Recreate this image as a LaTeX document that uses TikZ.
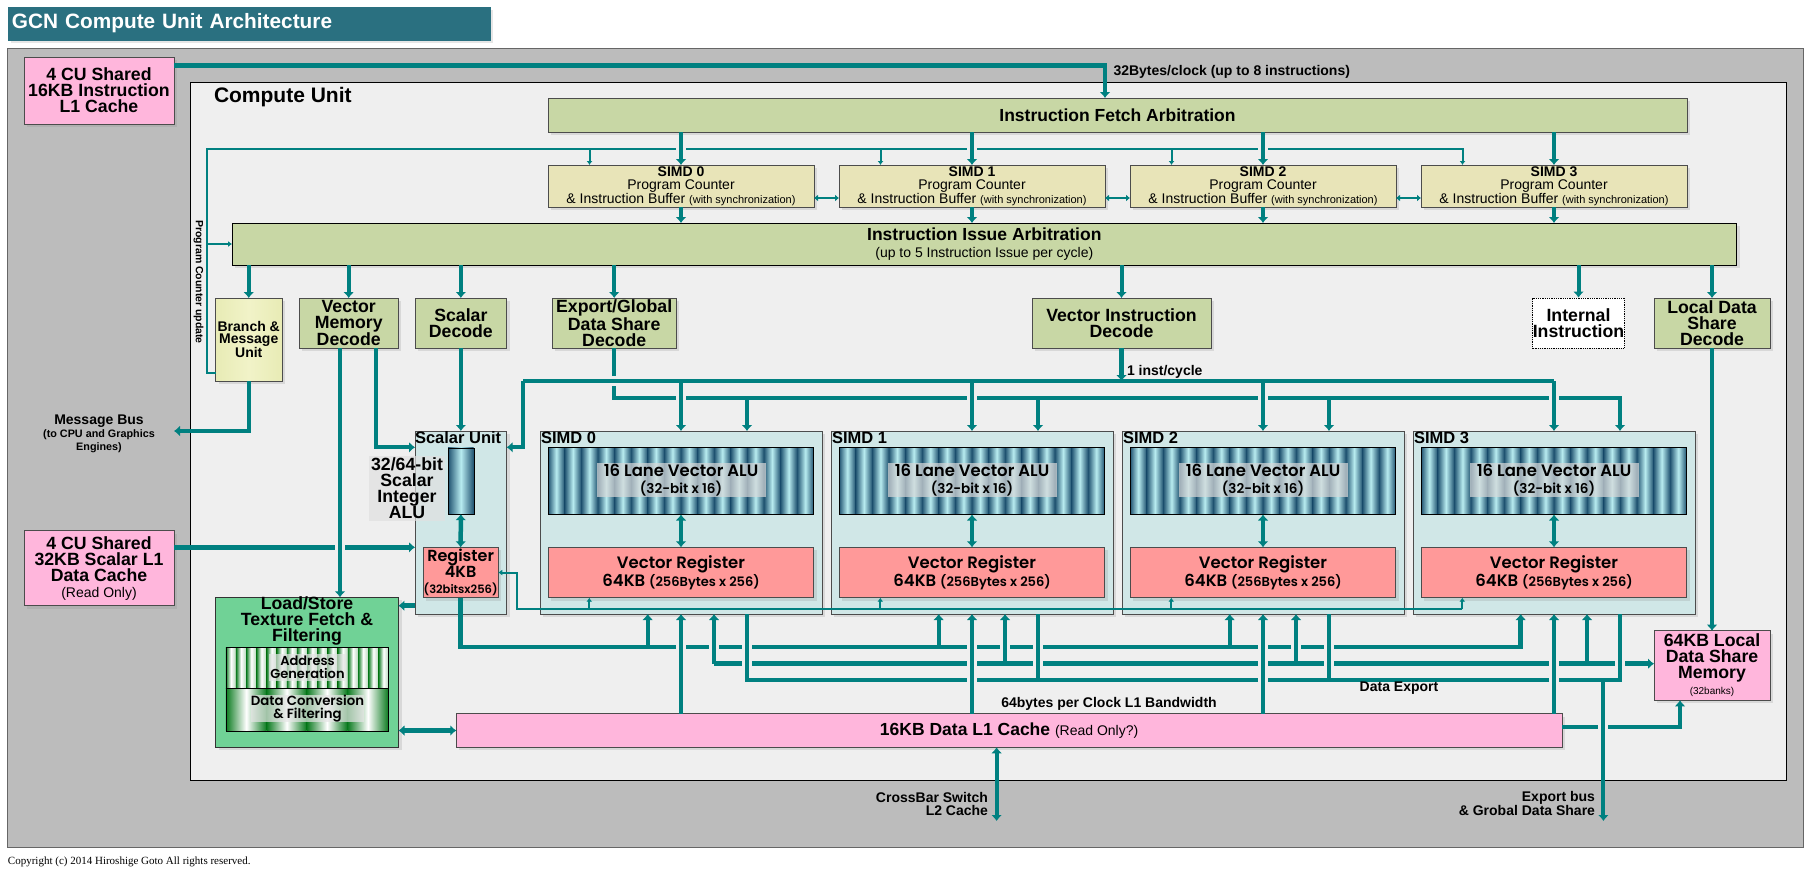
\documentclass[tikz,border=0pt]{standalone}
\usepackage{fontspec}
\setmainfont{Liberation Sans}
\newfontfamily\gothic[BoldFont = * SemiBold]{Poppins}
\newfontfamily\copyfont{Liberation Serif}
\usepackage{tikz}
\usetikzlibrary{arrows.meta, shadows}

\definecolor{tealline}{HTML}{008080}
\definecolor{titleblue}{HTML}{2A7080}
\definecolor{chipgray}{HTML}{BCBCBC}
\definecolor{cubg}{HTML}{EFEFEF}
\definecolor{arbgreen}{HTML}{C8D7A5}
\definecolor{pcyellow}{HTML}{E8E4B8}
\definecolor{branchedge}{HTML}{E8EBB5}
\definecolor{branchmid}{HTML}{F1F3C8}
\definecolor{simdbg}{HTML}{D0E7E7}
\definecolor{cachepink}{HTML}{FFB6DC}
\definecolor{regred}{HTML}{FF9999}
\definecolor{lsgreen}{HTML}{70D296}
\definecolor{lanedark}{HTML}{1F5270}
\definecolor{lanelight}{HTML}{B8ECF0}
\definecolor{stripegreen}{HTML}{0A7A1E}

\newcommand{\fsz}[2]{\fontsize{#1}{#2}\selectfont}

\tikzset{
    x = 1pt, y = -1pt,
    softshadow/.style = {drop shadow = {opacity = .2, shadow xshift = 3pt, shadow yshift = -3pt}},
    block/.style = {draw = black!70, line width = 1pt, inner sep = 0pt, outer sep = 0pt, align = center, font = \fsz{17.7}{16}\bfseries, softshadow},
    decode/.style = {block, fill = arbgreen},
    cache/.style = {block, fill = cachepink},
    plain/.style = {inner sep = 0pt, outer sep = 0pt, align = center, font = \fsz{14}{13}\bfseries},
    glass/.style = {inner sep = 0pt, outer sep = 0pt, align = center, fill = black!15, fill opacity = .7, text opacity = 1},
    bus/.style = {draw = tealline, line width = 4.5pt},
    link/.style = {draw = tealline, line width = 4pt},
    thinbus/.style = {draw = tealline, line width = 2pt},
    cover/.style = {draw = cubg, line width = 10pt},
    arr/.style = {-{Latex[length = 6pt, width = 11pt]}},
    darr/.style = {{Latex[length = 6pt, width = 11pt]}-{Latex[length = 6pt, width = 11pt]}},
    thinarr/.style = {-{Latex[length = 4pt, width = 6pt]}},
    lane/.style = {left color = lanedark, right color = lanedark, middle color = lanelight}
}

\begin{document}
\begin{tikzpicture}
    \useasboundingbox (0, 0) rectangle (1816, 878);

    % frames
    \node [block, fill = titleblue, draw = titleblue, minimum width = 482, minimum height = 33, text width = 474, align = left, text = white, font = \fsz{20.8}{21}\bfseries] (title) at (249, 23.5) {GCN Compute Unit Architecture};
    \node [draw = black!60, line width = 1pt, fill = chipgray, minimum width = 1795.5, minimum height = 798.5] (chip) at (905.25, 447.75) {};
    \node [draw = black, line width = 1pt, fill = cubg, minimum width = 1595.5, minimum height = 698] (cu) at (988.25, 431) {};
    \node [plain, anchor = west, font = \fsz{21}{21}\bfseries] (culabel) at (214, 97) {Compute Unit};
    \node [plain, anchor = west, font = \fsz{11}{11}\copyfont] (copyright) at (8, 862.3) {Copyright (c) 2014 Hiroshige Goto All rights reserved.};

    % caches and arbitration
    \node [cache, minimum width = 150, minimum height = 67] (icache) at (99, 90.5) {4 CU Shared\\16KB Instruction\\L1 Cache};
    \node [cache, minimum width = 150, minimum height = 74.7] (dcache) at (99, 568.3) {4 CU Shared\\32KB Scalar L1\\Data Cache\\{\fsz{14}{16}\mdseries (Read Only)}};
    \node [decode, minimum width = 1139, minimum height = 34, font = \fsz{17.5}{17}\bfseries] (fetch) at (1117.5, 115) {Instruction Fetch Arbitration};
    \node [decode, draw = black, minimum width = 1504.6, minimum height = 42, font = \fsz{17.5}{17}\bfseries] (issue) at (984.3, 244) {Instruction Issue Arbitration\\{\fsz{14}{15}\mdseries (up to 5 Instruction Issue per cycle)}};

    % decoders
    \node [block, left color = branchedge, right color = branchedge, middle color = branchmid, minimum width = 66.5, minimum height = 83, font = \fsz{14}{12.7}\bfseries] (branch) at (248.75, 339.5) {Branch \&\\Message\\Unit};
    \node [decode, minimum width = 99.4, minimum height = 50] (vmem) at (348.7, 323) {Vector\\Memory\\Decode};
    \node [decode, minimum width = 91.7, minimum height = 50] (sdec) at (460.85, 323) {Scalar\\Decode};
    \node [decode, minimum width = 123.6, minimum height = 50] (expdec) at (614.2, 323) {Export/Global\\Data Share\\Decode};
    \node [decode, minimum width = 179, minimum height = 50] (vdec) at (1121.5, 323) {Vector Instruction\\Decode};
    \node [draw = black, densely dotted, fill = white, line width = .8pt, inner sep = 0pt, align = center, font = \fsz{17.7}{16}\bfseries, minimum width = 91, minimum height = 50] (inter) at (1578.5, 323) {Internal\\Instruction};
    \node [decode, minimum width = 116, minimum height = 50] (ldsdec) at (1712, 323) {Local Data\\Share\\Decode};

    % load/store unit
    \node [block, fill = lsgreen, draw = black!80, minimum width = 183, minimum height = 150] (lstore) at (307, 672.3) {};
    \node [plain, font = \fsz{17.7}{16}\bfseries] (lslabel) at (307, 620.7) {Load/Store\\Texture Fetch \&\\Filtering};
    \foreach \j in {0, ..., 15}
        \shade [left color = stripegreen, right color = stripegreen!30, middle color = white] (225.8 + \j*10.17, 647.3) rectangle +(10.17, 40.7);
    \foreach \x/\w in {225.8/40.9, 266.7/40, 306.7/40.6, 347.3/41.2}
        \shade [left color = stripegreen, right color = stripegreen, middle color = white] (\x, 688) rectangle +(\w, 42.7);
    \node [draw = black, minimum width = 162.7, minimum height = 40.7, inner sep = 0pt] (addr) at (307.15, 667.65) {};
    \node [draw = black, minimum width = 162.7, minimum height = 42.7, inner sep = 0pt] (conv) at (307.15, 709.35) {};
    \node [glass, minimum width = 77, minimum height = 27, font = \fsz{13}{13}\gothic\bfseries, fill = black!10] (addrlabel) at (307.5, 667) {Address\\Generation};
    \node [glass, minimum width = 113, minimum height = 25, font = \fsz{13.3}{12.4}\gothic\bfseries, fill = black!10] (convlabel) at (307.5, 708.5) {Data Conversion\\\& Filtering};

    % scalar unit
    \node [block, fill = simdbg, draw = black!70, minimum width = 91.7, minimum height = 183] (scalar) at (460.85, 522.5) {};
    \node [plain, anchor = west, font = \fsz{16.5}{16}\bfseries] (sulabel) at (415, 438) {Scalar Unit};
    \shade [lane] (448, 447.7) rectangle (473.7, 514);
    \node [draw = black, minimum width = 25.7, minimum height = 66.3, inner sep = 0pt] (salu) at (460.85, 480.85) {};
    \node [glass, fill = black!12, minimum width = 75.7, minimum height = 64.7, font = \fsz{17.7}{16}\bfseries] (salulabel) at (407, 488.3) {32/64-bit\\Scalar\\Integer\\ALU};
    \node [block, fill = regred, draw = black!70, minimum width = 75.3, minimum height = 50.4, font = \fsz{16}{16}\gothic\bfseries] (reg) at (460.65, 572.5) {Register\\4KB\\{\fsz{11.5}{16}\gothic\bfseries (32bitsx256)}};

    % simd columns
    \foreach \i in {0, 1, 2, 3} {
        \begin{scope}[xshift = \i*291pt]
            \node [block, fill = pcyellow, minimum width = 266, minimum height = 42, font = \fsz{14}{13}] (pc\i) at (681, 186) {\textbf{SIMD \i}\\Program Counter\\\& Instruction Buffer {\fsz{11}{13}(with synchronization)}};
            \node [block, fill = simdbg, minimum width = 282, minimum height = 183] (simd\i) at (681, 522.5) {};
            \node [plain, anchor = west, font = \fsz{16.5}{16}\bfseries] (simdlabel\i) at (541, 438) {SIMD \i};
            \foreach \j in {0, ..., 15}
                \shade [lane] (548 + \j*16.6, 447.7) rectangle +(16.6, 66.3);
            \node [draw = black, line width = 1pt, minimum width = 265.6, minimum height = 66.3, inner sep = 0pt] (valu\i) at (681, 480.85) {};
            \node [glass, minimum width = 169, minimum height = 33.7, font = \fsz{16.5}{17}\gothic\bfseries] (alulabel\i) at (681, 479.8) {16 Lane Vector ALU\\{\fsz{13.5}{17}(32-bit x 16)}};
            \node [block, fill = regred, minimum width = 265.6, minimum height = 50.4, font = \fsz{16.5}{16}\gothic\bfseries] (vreg\i) at (681, 572.5) {Vector Register\\64KB {\fsz{13}{16}(256Bytes x 256)}};
            \coordinate (ain\i) at (647.7, 614);
            \coordinate (bin\i) at (714, 614);
            \coordinate (cout\i) at (747, 614);
            \coordinate (exin\i) at (747, 431);
            \coordinate (vin\i) at (589.3, 597.7);
            \coordinate (pcin\i) at (589.5, 165);
        \end{scope}
    }

    \node [cache, minimum width = 1105.7, minimum height = 33.6, font = \fsz{17.5}{17}\bfseries] (l1) at (1009.15, 730.5) {16KB Data L1 Cache {\fsz{14}{17}\mdseries (Read Only?)}};
    \node [cache, minimum width = 116, minimum height = 69.6] (ldsmem) at (1712, 665.5) {64KB Local\\Data Share\\Memory\\{\fsz{10}{13}\mdseries (32banks)}};

    % free ends and bus levels
    \coordinate (iturn) at (1105, 65.5);
    \coordinate (pctop) at (207, 149);
    \coordinate (pcout) at (215.5, 373);
    \coordinate (msgbus) at (174, 431);
    \coordinate (vmem1) at (340, 348);
    \coordinate (vmem2) at (376.4, 348);
    \coordinate (suin) at (415, 447.3);
    \coordinate (dcin) at (415, 547.3);
    \coordinate (lsout) at (398.4, 605.7);
    \coordinate (instleft) at (523, 381);
    \coordinate (scalarin) at (506.7, 447.3);
    \coordinate (exbus) at (0, 398);
    \coordinate (thinturn) at (516.7, 609);
    \coordinate (busa) at (0, 647);
    \coordinate (busb) at (0, 663.7);
    \coordinate (busc) at (0, 680);
    \coordinate (exportend) at (1603.4, 821);
    \coordinate (xbar) at (996.6, 821);
    \coordinate (l1out) at (1562, 727);
    \coordinate (memin) at (1680, 700.3);

    % instruction side
    \draw [bus, arr] (icache.east |- iturn) -| (fetch.north -| iturn);
    \draw [thinbus, thinarr] (pcout) -| (pctop) -| (pcin3);
    \draw [thinbus, thinarr] (pctop |- issue.west) -- (issue.west);
    \foreach \i in {0, 1, 2}
        \draw [thinbus, thinarr] (pctop -| pcin\i) -- (pcin\i);
    \foreach \x in {681, 972, 1263}
        \draw [cover] (\x, 144) -- (\x, 154);
    \foreach \i in {0, 1, 2, 3} {
        \draw [bus, arr] (fetch.south -| pc\i) -- (pc\i.north);
        \draw [bus, arr] (pc\i.south) -- (issue.north -| pc\i);
    }
    \foreach \a/\b in {0/1, 1/2, 2/3}
        \draw [thinbus, {Latex[length = 4pt, width = 7pt]}-{Latex[length = 4pt, width = 7pt]}] ([yshift = -12pt]pc\a.east) -- ([yshift = -12pt]pc\b.west);

    % issue to decoders
    \foreach \n in {branch, vmem, sdec, expdec, vdec, inter, ldsdec}
        \draw [link, arr] (issue.south -| \n.north) -- (\n.north);
    \draw [bus, arr] (branch.south) |- (msgbus);
    \draw [link, arr] (sdec.south) -- (scalar.north -| sdec.south);
    \draw [link, arr] (ldsdec.south) -- (ldsmem.north);
    \draw [link, arr] (vmem2) |- (suin);

    \draw [bus, arr] (dcache.east |- dcin) -- (dcin);
    \draw [cover] (335, 547.3) -- (345, 547.3);
    \draw [link, arr] (vmem1) -- (vmem1 |- lstore.north);
    \draw [bus, arr] (scalar.west |- lsout) -- (lsout);
    \draw [bus, darr] (lstore.east |- l1.west) -- (l1.west);

    % vector decode busses
    \draw [bus, arr] (expdec.south) |- (exbus -| exin3) -- (exin3);
    \draw [cover] (608, 381) -- (620, 381);
    \draw [bus, arr] (vdec.south) -- (vdec.south |- instleft);
    \draw [bus] (instleft) -- (instleft -| simd3.north);
    \draw [link, arr] (instleft) |- (scalarin);
    \foreach \x in {681, 972, 1263, 1554}
        \draw [cover] (\x, 394) -- (\x, 402);
    \foreach \i in {0, 1, 2, 3}
        \draw [link, arr] (instleft -| simd\i.north) -- (simd\i.north);
    \foreach \i in {0, 1, 2}
        \draw [link, arr] (exbus -| exin\i) -- (exin\i);

    % local register links
    \draw [bus, darr] (salu.south) -- (reg.north);
    \foreach \i in {0, 1, 2, 3}
        \draw [bus, darr] (valu\i.south) -- (vreg\i.north);
    \draw [thinbus, thinarr] (thinturn -| vin3) -- (thinturn) |- (reg.east);
    \foreach \i in {0, 1, 2, 3}
        \draw [thinbus, thinarr] (vin\i |- thinturn) -- (vin\i);

    % data busses under the simds
    \draw [bus, arr] (reg.south) |- (busa -| ain3) -- (ain3);
    \draw [bus, arr] (bin0 |- busb) -- (ldsmem.west |- busb);
    \draw [bus] (cout0) -- (cout0 |- busc) -- (cout3 |- busc) -- (cout3);
    \draw [bus, arr] (l1out) -| (memin);
    \foreach \x in {681, 714, 747, 972, 1005, 1038, 1263, 1296, 1329}
        \draw [cover] (\x, 643) -- (\x, 651);
    \foreach \x in {747, 972, 1038, 1263, 1329, 1554, 1620}
        \draw [cover] (\x, 660) -- (\x, 668);
    \foreach \x in {972, 1263, 1554}
        \draw [cover] (\x, 676) -- (\x, 684);
    \draw [cover] (1603.4, 723) -- (1603.4, 731);
    \foreach \i in {0, 1, 2}
        \draw [link, arr] (ain\i |- busa) -- (ain\i);
    \foreach \i in {0, 1, 2, 3} {
        \draw [link] (cout\i) -- (cout\i |- busc);
        \draw [link, arr] (bin\i |- busb) -- (bin\i);
        \draw [link, arr] (l1.north -| simd\i.south) -- (simd\i.south);
    }
    \draw [link, arr] (exportend |- busc) -- (exportend);
    \draw [link, darr] (xbar |- l1.south) -- (xbar);

    % labels
    \node [plain, anchor = west] (fetchrate) at (1113.5, 72) {32Bytes/clock (up to 8 instructions)};
    \node [plain, rotate = -90, font = \fsz{10.5}{11}\bfseries] (pcupdate) at (198.6, 282) {Program Counter update};
    \node [plain, anchor = west] (instrate) at (1127, 371.7) {1 inst/cycle};
    \node [plain] (msglabel) at (99, 434) {Message Bus\\{\fsz{10.8}{11.7}(to CPU and Graphics}\\{\fsz{10.8}{11.7}Engines)}};
    \node [plain] (l1rate) at (1109, 703.7) {64bytes per Clock L1 Bandwidth};
    \node [plain] (dataexport) at (1399, 688) {Data Export};
    \node [plain, anchor = east, align = right] (xbarlabel) at (988, 803.5) {CrossBar Switch\\L2 Cache};
    \node [plain, anchor = east, align = right] (exportlabel) at (1595, 803.5) {Export bus\\\& Grobal Data Share};
\end{tikzpicture}
\end{document}
